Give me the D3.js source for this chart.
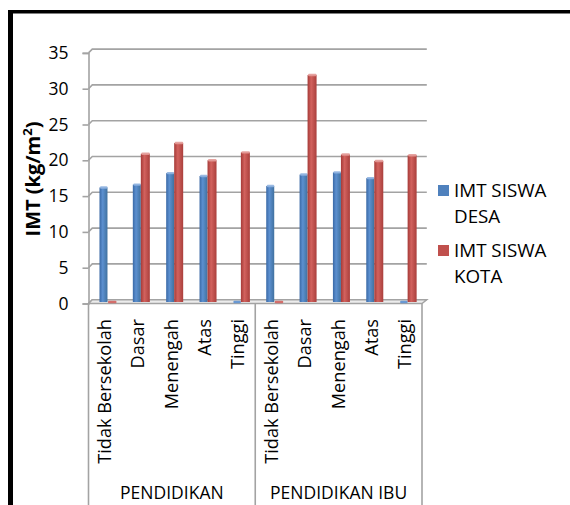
<!DOCTYPE html>
<html>
<head>
<meta charset="utf-8">
<script src="https://cdn.jsdelivr.net/npm/d3@7"></script>
<style>
  html, body { margin: 0; padding: 0; background: #fff; }
  svg { display: block; font-family: "Open Sans", "Noto Sans", sans-serif; }
</style>
</head>
<body>
<svg id="chart" width="570" height="505"></svg>
<script>
// Education levels, repeated for father's (PENDIDIKAN) and mother's (PENDIDIKAN IBU) education
const levels = ["Tidak Bersekolah", "Dasar", "Menengah", "Atas", "Tinggi"];
const groups = ["PENDIDIKAN", "PENDIDIKAN IBU"];
// Mean BMI (IMT) per level, rural (desa) and urban (kota) students
const desaValues = [16.0, 16.4, 18.0, 17.6, 0, 16.2, 17.8, 18.1, 17.3, 0];
const kotaValues = [0, 20.7, 22.2, 19.8, 20.9, 0, 31.7, 20.6, 19.7, 20.5];
const seriesNames = ["IMT SISWA DESA", "IMT SISWA KOTA"];
const yTicks = [0, 5, 10, 15, 20, 25, 30, 35];

const svg = d3.select("#chart");
const defs = svg.append("defs");

const colors = {
  desa: { dark: "#3a69a6", mid: "#5c90d0", edge: "#40719f", cap: "#8fb2e0", legend: "#4f81bd" },
  kota: { dark: "#a53a37", mid: "#d2625e", edge: "#aa3f3c", cap: "#e39a97", legend: "#c0504d" }
};
Object.entries(colors).forEach(([k, c]) => {
  const g = defs.append("linearGradient").attr("id", "grad-" + k)
    .attr("x1", "0%").attr("x2", "100%").attr("y1", "0%").attr("y2", "0%");
  g.append("stop").attr("offset", "0%").attr("stop-color", c.dark);
  g.append("stop").attr("offset", "40%").attr("stop-color", c.mid);
  g.append("stop").attr("offset", "100%").attr("stop-color", c.edge);
});

// Plot geometry (front edge of the 3D floor, with a small depth offset for the back wall)
const x0 = 88.5, x1 = 422, yTop = 52.9, yBase = 303.5;
const depth = 3.8;

const keys = d3.range(levels.length * groups.length);
const x = d3.scaleBand().domain(keys).range([x0, x1]).padding(0);
const y = d3.scaleLinear().domain([0, 35]).range([yBase, yTop]);

// Outer frame
svg.append("rect").attr("x", 8).attr("y", 10).attr("width", 5).attr("height", 495).attr("fill", "#000");
svg.append("rect").attr("x", 8).attr("y", 10).attr("width", 562).attr("height", 3.5).attr("fill", "#000");

const gridColor = "#a3a3a3";

// Back-wall gridlines with their short 3D joint to the value axis
const grid = svg.append("g");
yTicks.forEach(t => {
  const yy = y(t);
  grid.append("path")
    .attr("d", `M${x0},${yy} L${x0 + depth},${yy - depth} L${x1 + depth + 1},${yy - depth}`)
    .attr("fill", "none").attr("stroke", gridColor).attr("stroke-width", 1.6);
});

// Floor
svg.append("path")
  .attr("d", `M${x0},${yBase} L${x0 + depth},${yBase - depth} L${x1 + depth + 1},${yBase - depth} L${x1},${yBase} Z`)
  .attr("fill", "#ececec").attr("stroke", gridColor).attr("stroke-width", 1.4);

// Value axis with d3 ticks
const yAxis = d3.axisLeft(y).tickValues(yTicks).tickSize(6).tickPadding(14);
const ya = svg.append("g").attr("transform", `translate(${x0},0)`).call(yAxis);
ya.select(".domain").attr("stroke", gridColor).attr("stroke-width", 1.6);
ya.selectAll(".tick line").attr("stroke", gridColor).attr("stroke-width", 1.6);
ya.selectAll(".tick text").attr("font-size", 17.5).attr("fill", "#000")
  .attr("font-family", "'Open Sans', sans-serif");

// Bars
const barOffset = 2.3, desaW = 8, kotaW = 9, capH = 2.4;
function drawBars(values, key, left, w) {
  const c = colors[key];
  const g = svg.append("g");
  values.forEach((v, i) => {
    const cx = x(i) + x.bandwidth() / 2 + barOffset;
    const bx = left(cx);
    const top = y(v) - 1.5;
    const bottom = yBase - 1.5;
    if (v > 0) {
      g.append("rect").attr("x", bx).attr("y", top).attr("width", w)
        .attr("height", bottom - top).attr("fill", `url(#grad-${key})`);
    }
    g.append("rect").attr("x", bx + 0.5).attr("y", top - capH / 2).attr("width", w - 0.5)
      .attr("height", capH).attr("rx", 1).attr("fill", v > 0 ? c.cap : c.mid).attr("opacity", 0.9);
  });
}
drawBars(desaValues, "desa", cx => cx - desaW, desaW);
drawBars(kotaValues, "kota", cx => cx, kotaW);

// Category axis: level labels and group separators
const catLabels = svg.append("g");
keys.forEach(i => {
  const cx = x(i) + x.bandwidth() / 2;
  catLabels.append("text")
    .attr("transform", `translate(${cx - 0.5},319) rotate(-90)`)
    .attr("text-anchor", "end").attr("dy", "0.35em")
    .attr("font-size", 18.2).attr("fill", "#000")
    .text(levels[i % levels.length]);
});

const groupEdges = [x0, x(levels.length), x1];
groupEdges.forEach(gx => {
  svg.append("line").attr("x1", gx).attr("x2", gx).attr("y1", yBase).attr("y2", 505)
    .attr("stroke", gridColor).attr("stroke-width", 1.6);
});
groups.forEach((gname, gi) => {
  const gx = (groupEdges[gi] + groupEdges[gi + 1]) / 2;
  svg.append("text").attr("x", gx).attr("y", 499)
    .attr("text-anchor", "middle").attr("font-size", 17.5).attr("fill", "#000")
    .text(gname);
});

// Value axis title
const title = svg.append("text")
  .attr("transform", "translate(40,179) rotate(-90)")
  .attr("text-anchor", "middle").attr("font-size", 20).attr("font-weight", "bold").attr("fill", "#000");
title.append("tspan").text("IMT (kg/m");
title.append("tspan").attr("font-size", 13).attr("dy", -8).text("2");
title.append("tspan").attr("dy", 8).text(")");

// Legend
const legend = svg.append("g");
seriesNames.forEach((name, i) => {
  const key = i === 0 ? "desa" : "kota";
  const ly = 185 + i * 60;
  legend.append("rect").attr("x", 438).attr("y", ly).attr("width", 11).attr("height", 11)
    .attr("fill", colors[key].legend);
  const words = name.split(" ");
  const t = legend.append("text").attr("x", 454).attr("y", ly + 12).attr("font-size", 18.8).attr("fill", "#000");
  t.append("tspan").attr("x", 454).text(words.slice(0, 2).join(" "));
  t.append("tspan").attr("x", 454).attr("dy", 26).text(words.slice(2).join(" "));
});
</script>
</body>
</html>
